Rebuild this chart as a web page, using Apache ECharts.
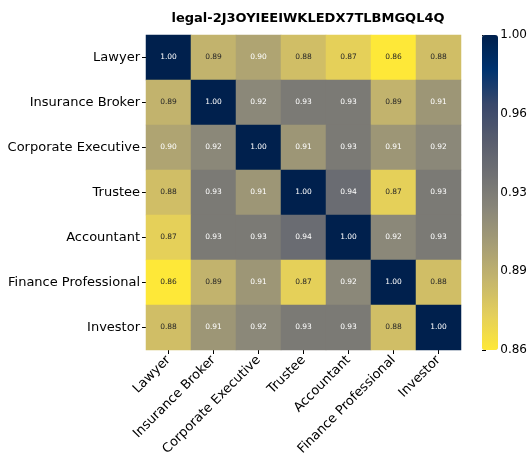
<!DOCTYPE html>
<html>
<head>
<meta charset="utf-8">
<script src="https://cdn.jsdelivr.net/npm/echarts@6/dist/echarts.min.js"></script>
<style>
  html, body { margin: 0; padding: 0; background: #fff; }
  #chart { width: 530px; height: 459px; }
</style>
</head>
<body>
<div id="chart"></div>
<script>
// Correlation heatmap data
const roles = ['Lawyer', 'Insurance Broker', 'Corporate Executive', 'Trustee', 'Accountant', 'Finance Professional', 'Investor'];

const lawyerRow      = [1.00, 0.89, 0.90, 0.883, 0.872, 0.857, 0.883];
const insuranceRow   = [0.89, 1.00, 0.92, 0.93, 0.93, 0.89, 0.91];
const corporateRow   = [0.90, 0.92, 1.00, 0.91, 0.93, 0.91, 0.92];
const trusteeRow     = [0.883, 0.93, 0.91, 1.00, 0.94, 0.872, 0.93];
const accountantRow  = [0.872, 0.93, 0.93, 0.94, 1.00, 0.92, 0.93];
const financeRow     = [0.857, 0.89, 0.91, 0.872, 0.92, 1.00, 0.883];
const investorRow    = [0.883, 0.91, 0.92, 0.93, 0.93, 0.883, 1.00];

const colorbarTicks = ['0.86', '0.89', '0.93', '0.96', '1.00'];
const colorMin = 0.857;
const colorMax = 1.00;

const matrix = [lawyerRow, insuranceRow, corporateRow, trusteeRow, accountantRow, financeRow, investorRow];

// cividis, reversed (low = yellow, high = dark blue)
const cividisReversed = ['#fee838', '#e4cf5b', '#c4b56c', '#a69d75', '#8a8779', '#707173', '#575c6d', '#39486b', '#00336f', '#00204d'];

const heatData = [];
matrix.forEach((row, y) => {
    row.forEach((v, x) => {
        heatData.push({
            value: [x, y, v],
            label: { color: v < 0.895 ? '#262626' : '#ffffff' }
        });
    });
});

const chart = echarts.init(document.getElementById('chart'));

const option = {
    animation: false,
    textStyle: { fontFamily: 'DejaVu Sans' },
    title: {
        text: 'legal-2J3OYIEEIWKLEDX7TLBMGQL4Q',
        left: 303,
        top: 7,
        textAlign: 'center',
        textStyle: { fontSize: 13, fontWeight: 'bold', color: '#000', fontFamily: 'DejaVu Sans' }
    },
    grid: [
        { left: 146, top: 35, width: 315, height: 315 },
        { left: 482, top: 35, width: 16, height: 315 }
    ],
    xAxis: [
        {
            type: 'category',
            gridIndex: 0,
            data: roles,
            axisLine: { show: false },
            axisTick: { show: true, alignWithLabel: true, length: 4, lineStyle: { color: '#000' } },
            axisLabel: { rotate: 45, fontSize: 13, color: '#000', margin: 8, interval: 0 },
            splitLine: { show: false }
        },
        { type: 'value', gridIndex: 1, show: false, min: 0, max: 1 }
    ],
    yAxis: [
        {
            type: 'category',
            gridIndex: 0,
            data: roles,
            inverse: true,
            axisLine: { show: false },
            axisTick: { show: true, alignWithLabel: true, length: 4, lineStyle: { color: '#000' } },
            axisLabel: { fontSize: 13, color: '#000', margin: 6, interval: 0 },
            splitLine: { show: false }
        },
        {
            type: 'value',
            gridIndex: 1,
            position: 'right',
            min: 0,
            max: 4,
            interval: 1,
            axisLine: { show: false },
            axisTick: { show: true, length: 4, lineStyle: { color: '#000' } },
            axisLabel: {
                fontSize: 12,
                color: '#000',
                margin: 3,
                formatter: (v) => colorbarTicks[v]
            },
            splitLine: { show: false }
        }
    ],
    visualMap: {
        type: 'continuous',
        min: colorMin,
        max: colorMax,
        seriesIndex: 0,
        calculable: false,
        showLabel: false,
        text: [],
        left: 482,
        top: 35,
        padding: 0,
        itemWidth: 16,
        itemHeight: 315,
        inRange: { color: cividisReversed }
    },
    series: [
        {
            type: 'heatmap',
            xAxisIndex: 0,
            yAxisIndex: 0,
            data: heatData,
            label: {
                show: true,
                fontSize: 7.5,
                formatter: (p) => p.value[2].toFixed(2)
            },
            emphasis: { disabled: true }
        }
    ]
};

chart.setOption(option);
</script>
</body>
</html>
